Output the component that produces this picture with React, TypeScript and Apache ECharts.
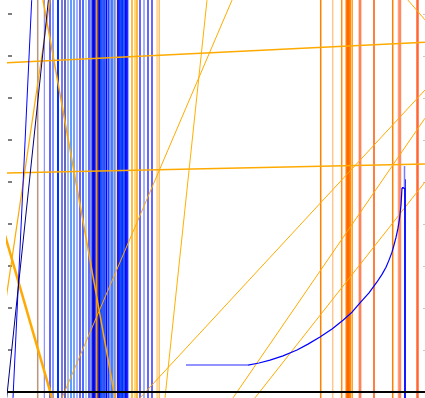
import React, { useEffect, useRef } from "react";
import * as echarts from "echarts";

// Axis extents (x in plot units, y in tick units)
const X_MIN = 0;
const X_MAX = 417;
const Y_MIN = 0;
const Y_MAX = 10;
const Y_LOW = -0.2;
const Y_HIGH = 9.5;

// Vertical rule lines: [x, colour, width]
const blueRules: [number, string, number][] = [
  [36.3, "#7777ff", 1],
  [42, "#0000ff", 1.2],
  [45, "#3355ff", 1.2],
  [50, "#0033ff", 2],
  [54, "#1a1aff", 1.2],
  [57, "#000080", 1.2],
  [60, "#3d6bff", 1],
  [63, "#4d94ff", 1.8],
  [66, "#1a66ff", 1.2],
  [69, "#6680ff", 1.2],
  [72, "#0000ff", 1.2],
  [75, "#3d5cff", 1.8],
  [78, "#80b3ff", 1.2],
  [81, "#0000e6", 1.2],
  [83, "#2a5cff", 1.2],
  [84.5, "#1a1acc", 1.5],
  [86, "#0000ff", 2],
  [87.5, "#1a3dff", 1.5],
  [90, "#0000b3", 1.5],
  [91.5, "#0000cc", 2],
  [93, "#0044ff", 1.8],
  [95, "#0022ee", 1.5],
  [96.5, "#1a53ff", 2],
  [98.5, "#0000ff", 1.8],
  [100.5, "#2244ff", 1.5],
  [102, "#3366ff", 1.2],
  [104, "#0d47ff", 1.5],
  [105.5, "#99bbff", 1.2],
  [107, "#4d88ff", 1.8],
  [110, "#0000ff", 1.8],
  [111.5, "#1133ff", 1.5],
  [113, "#1a4dff", 2],
  [114.5, "#0033ff", 2],
  [116, "#2255ff", 1.8],
  [117.5, "#0011ee", 1.5],
  [119, "#0000ff", 1.8],
  [120.5, "#99b3ff", 1.2],
  [132, "#0000ff", 1.2],
  [136, "#6680ff", 1.2],
  [140, "#0000ff", 1.2],
  [144, "#0000ff", 1.2],
];

const warmRules: [number, string, number][] = [
  [29.7, "#b8957c", 1.5],
  [88.5, "#ff9900", 1.5],
  [108, "#ffc04d", 1],
  [124, "#ffaa00", 1.5],
  [127, "#ffb000", 1],
  [129, "#ffa500", 1.5],
  [149.5, "#ffd699", 2.5],
  [151.5, "#ffc266", 1],
  [312.7, "#ff8000", 1.5],
  [324.7, "#ffc794", 1.5],
  [333.7, "#ff8c1a", 1.5],
  [338.5, "#ff7f00", 2],
  [340.5, "#ff6600", 3],
  [342.5, "#ff8c00", 2],
  [344.5, "#ffa040", 1],
  [352, "#ffa080", 3],
  [352, "#ff6633", 1],
  [366, "#ff5500", 1.5],
  [384.7, "#ff8000", 1.5],
  [391.5, "#ffa080", 3.5],
  [392, "#ff7744", 1],
  [409.5, "#ff8c66", 3],
  [409.5, "#ff6633", 1],
];

// Slanted segments: [x1, y1, x2, y2, colour, width]
const slants: [number, number, number, number, string, number][] = [
  [-7, 9.5, -7, 4.86, "#ffaa00", 2.5],
  [-8, 7.83, 417, 8.33, "#ffaa00", 1.5],
  [-8, 5.21, 417, 5.43, "#ffaa00", 1.5],
  [224, 9.33, 54, -0.14, "#ffaa00", 1],
  [199, 9.33, 157, -0.14, "#ffb000", 1],
  [-8, 4.14, 44, -0.14, "#ffaa00", 2.5],
  [42, 9.33, -8, 1.24, "#ffaa00", 1.2],
  [35, 9.33, 107, -0.14, "#ffaa00", 1.5],
  [132, -0.14, 417, 7.19, "#ffaa00", 1],
  [225, -0.14, 417, 6.52, "#ffaa00", 1],
  [247, -0.14, 417, 5.0, "#ffaa00", 1],
  [400, 9.33, 417, 8.86, "#ffaa00", 1],
  [23.7, 9.33, 5, -0.14, "#0000ff", 1],
  [40.4, 9.33, -1.3, -0.14, "#000080", 1],
];

// Cumulative curve: flat run, rising arc, then the closing step
const curveFlatX = [178, 240];
const curveFlatY = [0.64, 0.64];
const curveX = [240, 251, 262, 275, 289, 300, 312, 324, 335, 344, 352, 361, 369, 374, 378, 381, 384, 386, 388, 390, 391.5, 393, 394];
const curveY = [0.64, 0.69, 0.76, 0.86, 1.0, 1.14, 1.31, 1.5, 1.71, 1.9, 2.12, 2.36, 2.62, 2.8, 2.97, 3.14, 3.33, 3.5, 3.68, 3.9, 4.12, 4.45, 4.86];
const stepX = [394, 397, 397, 397];
const stepY = [4.86, 4.86, 5.05, -0.14];
const curveCapX = [396.5, 396.5];
const curveCapY = [5.38, 4.86];

const zip = (xs: number[], ys: number[]) => xs.map((x, i) => [x, ys[i]]);

const lineSeries = (data: number[][], color: string, width: number) => ({
  type: "line",
  data,
  showSymbol: false,
  symbol: "none",
  clip: false,
  silent: true,
  lineStyle: { color, width, join: "round" },
  z: 2,
});

export default function App() {
  const ref = useRef<HTMLDivElement>(null);

  useEffect(() => {
    if (!ref.current) return;
    const chart = echarts.init(ref.current, undefined, { renderer: "svg" });

    const series: any[] = [];
    blueRules.forEach(([x, c, w]) =>
      series.push(lineSeries([[x, Y_LOW], [x, Y_HIGH]], c, w))
    );
    warmRules.forEach(([x, c, w]) =>
      series.push(lineSeries([[x, Y_LOW], [x, Y_HIGH]], c, w))
    );
    slants.forEach(([x1, y1, x2, y2, c, w]) =>
      series.push(lineSeries([[x1, y1], [x2, y2]], c, w))
    );
    series.push(lineSeries(zip(curveFlatX, curveFlatY), "#6f6fff", 1.5));
    series.push(lineSeries(zip(curveX, curveY), "#0000ff", 1.2));
    series.push(lineSeries(zip(stepX, stepY), "#0000ff", 1.8));
    series.push(lineSeries(zip(curveCapX, curveCapY), "#7a7aff", 1.5));

    chart.setOption({
      animation: false,
      backgroundColor: "#ffffff",
      grid: { left: 8, right: 0, top: 0, bottom: 6, containLabel: false },
      xAxis: {
        type: "value",
        min: X_MIN,
        max: X_MAX,
        z: 10,
        axisLine: { show: true, onZero: false, lineStyle: { color: "#000000", width: 2 } },
        axisTick: { show: false },
        axisLabel: { show: false },
        splitLine: { show: false },
      },
      yAxis: [
        {
          type: "value",
          min: Y_MIN,
          max: Y_MAX,
          interval: 1,
          position: "left",
          axisLine: { show: false },
          axisTick: { show: true, inside: true, length: 4, lineStyle: { color: "#555555", width: 1.5 } },
          axisLabel: { show: false },
          splitLine: { show: false },
        },
        {
          type: "value",
          min: Y_MIN,
          max: Y_MAX,
          interval: 1,
          position: "right",
          axisLine: { show: false },
          axisTick: { show: true, inside: true, length: 2, lineStyle: { color: "#c8c8c8", width: 1 } },
          axisLabel: { show: false },
          splitLine: { show: false },
        },
      ],
      series,
    });

    return () => chart.dispose();
  }, []);

  // The plot area runs 28px above the visible top edge
  return (
    <div
      ref={ref}
      style={{ position: "fixed", left: 0, top: -28, width: 425, height: 426 }}
    />
  );
}
